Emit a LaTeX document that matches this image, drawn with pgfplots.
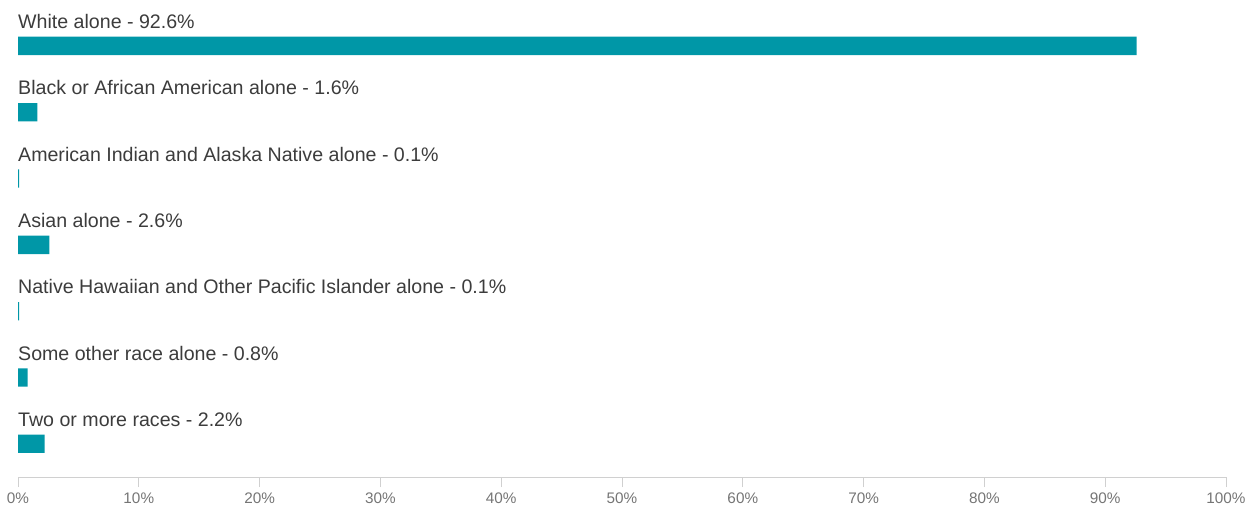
\documentclass[border=0pt]{standalone}
\usepackage{pgfplots}
\pgfplotsset{compat=1.18}
\usepackage{fontspec}
\setmainfont{Liberation Sans}
\definecolor{barc}{HTML}{0097A7}
\definecolor{lab}{HTML}{3C3C3C}
\definecolor{tickc}{HTML}{757575}
\definecolor{axc}{HTML}{D0D0D0}
\begin{document}
\begin{tikzpicture}
\begin{axis}[
  at={(18bp,29bp)}, anchor=south west,
  scale only axis, width=1208bp, height=464.3bp,
  xmin=0, xmax=100, ymin=-0.5, ymax=6.5, y dir=reverse,
  axis x line*=bottom, hide y axis,
  x axis line style={draw=axc, line width=1bp, -},
  xtick={0,10,20,30,40,50,60,70,80,90,100},
  xticklabels={0\%,10\%,20\%,30\%,40\%,50\%,60\%,70\%,80\%,90\%,100\%},
  xtick align=outside,
  major tick length=10bp,
  xtick style={draw=axc, line width=1bp},
  xticklabel style={font=\fontsize{15.3bp}{18bp}\selectfont, text=tickc, anchor=base, yshift=-16bp},
  ytick=\empty,
  xbar, bar width=18.3bp,
  clip=false,
]
\addplot[fill=barc, draw=none, bar shift=0pt] coordinates {(92.6,0) (1.6,1) (0.1,2) (2.6,3) (0.1,4) (0.8,5) (2.2,6)};
\tikzset{lbl/.style={anchor=base west, inner sep=0pt, text=lab, font=\fontsize{19.6bp}{22bp}\selectfont, yshift=17.5bp}}
\node[lbl] at (axis cs:0,0) {White alone - 92.6\%};
\node[lbl] at (axis cs:0,1) {Black or African American alone - 1.6\%};
\node[lbl] at (axis cs:0,2) {American Indian and Alaska Native alone - 0.1\%};
\node[lbl] at (axis cs:0,3) {Asian alone - 2.6\%};
\node[lbl] at (axis cs:0,4) {Native Hawaiian and Other Pacific Islander alone - 0.1\%};
\node[lbl] at (axis cs:0,5) {Some other race alone - 0.8\%};
\node[lbl] at (axis cs:0,6) {Two or more races - 2.2\%};
\end{axis}
\pgfresetboundingbox
\path[use as bounding box] (0,0) rectangle (1256bp,506bp);
\end{tikzpicture}
\end{document}
